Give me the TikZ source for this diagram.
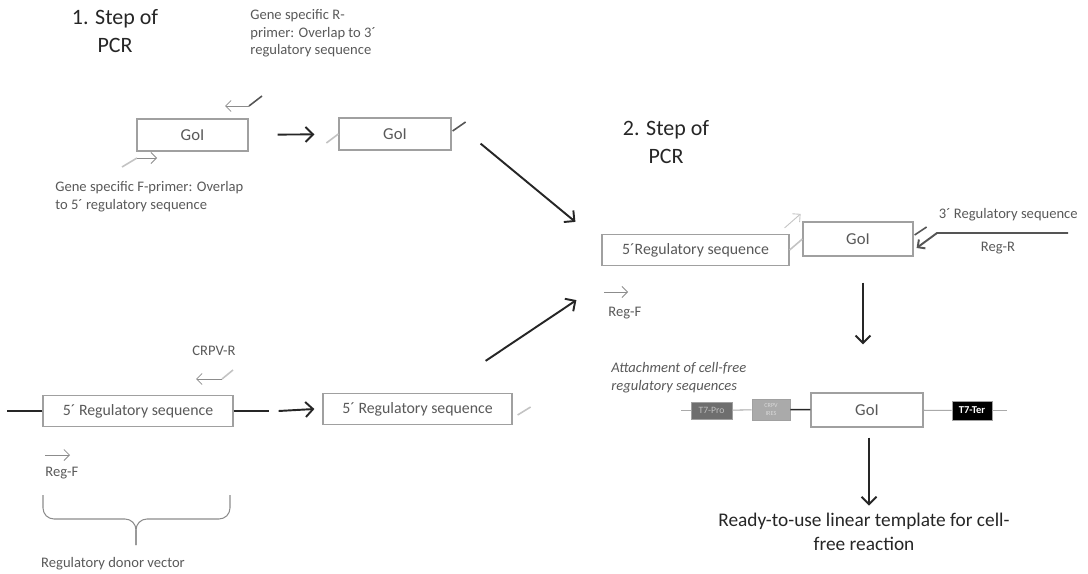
\documentclass[tikz,border=0pt]{standalone}
\usepackage{fontspec}
\setmainfont{Carlito}
\usetikzlibrary{arrows.meta,positioning}
\definecolor{boxgray}{RGB}{160,160,160}
\definecolor{txtgray}{RGB}{89,89,89}
\definecolor{titlegray}{RGB}{38,38,38}
\definecolor{primerdark}{RGB}{85,85,85}
\definecolor{primermid}{RGB}{140,140,140}
\definecolor{primerlight}{RGB}{195,195,195}
\definecolor{linegray}{RGB}{170,170,170}
\definecolor{profill}{RGB}{110,110,110}
\definecolor{iresfill}{RGB}{170,170,170}

\begin{document}
\begin{tikzpicture}[
    x=0.02cm,y=-0.02cm,
    seqbox/.style={rectangle,draw=boxgray,fill=white,line width=0.7pt,text=txtgray,
      inner sep=0pt,font=\fontsize{9}{11}\selectfont},
    goibox/.style={seqbox,minimum width=2.22cm,minimum height=0.64cm,font=\fontsize{9.5}{11}\selectfont},
    regbox/.style={seqbox,minimum width=3.78cm,minimum height=0.62cm},
    partbox/.style={rectangle,inner sep=0pt,draw=boxgray,line width=0.5pt},
    lbl/.style={text=txtgray,font=\fontsize{8.3}{10}\selectfont,inner sep=0pt},
    steptitle/.style={text=titlegray,font=\fontsize{12.5}{16}\selectfont,align=center,inner sep=0pt},
    flow/.style={-{Straight Barb[length=1.5mm,width=3mm]},line width=1.1pt,draw=black!85},
    primer/.style={-{Straight Barb[length=1.1mm,width=2.2mm]},line width=0.5pt,draw=primermid},
    tailL/.style={line width=0.9pt,draw=primerlight},
    tailD/.style={line width=0.9pt,draw=primerdark},
    backbone/.style={line width=0.9pt,draw=black!85},
    thinline/.style={line width=0.6pt,draw=linegray}
  ]
    \useasboundingbox (0,0) rectangle (1088,574);

    % 1. step of PCR
    \node[steptitle] (stepA) at (115,31) {1. Step of\\PCR};
    \node[lbl,align=left,anchor=north west] (rlbl) at (250,9) {Gene specific R-\\primer: Overlap to 3´\\regulatory sequence};
    \node[goibox] (goiA) at (192.5,135) {GoI};
    \coordinate (rpA) at (249,106);
    \draw[tailD] (rpA) -- ++(13,-10);
    \draw[primer] (rpA) -- ++(-24,0);
    \coordinate (fpA) at (137,158);
    \draw[tailL] (fpA) -- ++(-15,9);
    \draw[primer] (fpA) -- ++(20,0);
    \node[lbl,align=left,anchor=north west] (flbl) at (55,181) {Gene specific F-primer: Overlap\\to 5´ regulatory sequence};

    \node[goibox,minimum width=2.24cm] (goiB) at (395,134) {GoI};
    \draw[flow,shorten <=0.58cm,shorten >=0.48cm] (goiA) -- (goiB);
    \draw[tailL] (goiB.west) -- ++(-12,9);
    \draw[tailD] ([shift={(1,-3)}]goiB.east) -- ++(13,-9);

    % donor vector
    \node[lbl] (crpvlbl) at (214,351) {CRPV-R};
    \coordinate (crpvR) at (222,379);
    \draw[tailL] (crpvR) -- ++(11,-9);
    \draw[primer] (crpvR) -- ++(-26,0);
    \node[regbox,minimum width=3.8cm] (regLeft) at (138,411) {5´ Regulatory sequence};
    \draw[backbone] (regLeft.west) -- ++(-35,0);
    \draw[backbone] (regLeft.east) -- ++(35,0);
    \coordinate (rfL) at (45,455);
    \draw[primer] (rfL) -- ++(25,0);
    \node[lbl,anchor=west] (regFlblL) at (45,473) {Reg-F};
    \draw[thinline,draw=primermid,rounded corners=0.22cm] (43,495) |- (136,519) -- (136,545);
    \draw[thinline,draw=primermid,rounded corners=0.22cm] (230,495) |- (136,519) -- (136,545);
    \node[lbl] (donor) at (113,564) {Regulatory donor vector};

    \node[regbox] (regMid) at (417.5,409) {5´ Regulatory sequence};
    \draw[flow] ([shift={(45,0)}]regLeft.east) -- ([shift={(-8,0)}]regMid.west);
    \draw[tailL] ([shift={(5,6)}]regMid.east) -- ++(13,-8);

    % 2. step of PCR
    \node[steptitle] (stepB) at (666,142) {2. Step of\\PCR};
    \node[regbox,minimum width=3.74cm] (regTop) at (695.5,250) {5´Regulatory sequence};
    \node[goibox,minimum width=2.2cm,minimum height=0.68cm] (goiC) at (858,239) {GoI};
    \draw[tailL] (regTop.east) -- (goiC.west);
    \draw[primer,draw=primerlight] ([shift={(-5,-6)}]regTop.north east) -- ++(16,-14);
    \draw[tailD] ([shift={(1,-4)}]goiC.east) -- ++(12,-8);
    \coordinate (regRend) at (1068,233);
    \draw[primer,draw=primerdark,line width=1.1pt] (regRend) -- ++(-131,0) -- ([shift={(3,9)}]goiC.east);
    \node[lbl,anchor=east] (reg3lbl) at (1078,215) {3´ Regulatory sequence};
    \node[lbl] (regRlbl) at (998,248) {Reg-R};
    \coordinate (rfB) at (604,292);
    \draw[primer] (rfB) -- ++(24,0);
    \node[lbl,anchor=west] (regFlblB) at (608,313) {Reg-F};

    \draw[flow] ([shift={(29,-7)}]goiB.south east) -- ([shift={(-26,-12)}]regTop.north west);
    \draw[flow] ([shift={(-27,-32)}]regMid.north east) -- ([shift={(-25,34)}]regTop.south west);

    % cell-free template
    \node[goibox,minimum width=2.24cm,minimum height=0.68cm] (goiD) at (867,410) {GoI};
    \node[partbox,fill=profill,text=black!25,minimum width=0.82cm,minimum height=0.34cm,
      font=\fontsize{5.5}{6}\selectfont] (t7pro) at (711.5,410.5) {T7-Pro};
    \node[partbox,fill=iresfill,text=white!85!black,minimum width=0.76cm,minimum height=0.42cm,
      align=center,font=\fontsize{3.5}{4.5}\selectfont] (ires) at (771,409.5) {CRPV\\IRES};
    \node[partbox,fill=black,text=white,minimum width=0.8cm,minimum height=0.38cm,
      font=\fontsize{6}{7}\selectfont\bfseries] (t7ter) at (972,410.5) {T7-Ter};
    \draw[thinline] (t7pro.west) -- ++(-10,0);
    \draw[thinline] (t7pro) -- (ires);
    \draw[backbone] (ires) -- (goiD);
    \draw[thinline] (goiD) -- (t7ter);
    \draw[thinline] (t7ter.east) -- ++(15,0);
    \node[lbl,font=\fontsize{8.3}{10}\selectfont\itshape,align=left,anchor=north west] (attach) at (611,362) {Attachment of cell-free\\regulatory sequences};

    \draw[flow] ([shift={(5,26)}]goiC.south) -- ([shift={(-4,-48)}]goiD.north);
    \node[steptitle,font=\fontsize{11}{14}\selectfont] (ready) at (864,532) {Ready-to-use linear template for cell-\\free reaction};
    \draw[flow] ([shift={(2,10)}]goiD.south) -- ++(0,68);
\end{tikzpicture}
\end{document}
